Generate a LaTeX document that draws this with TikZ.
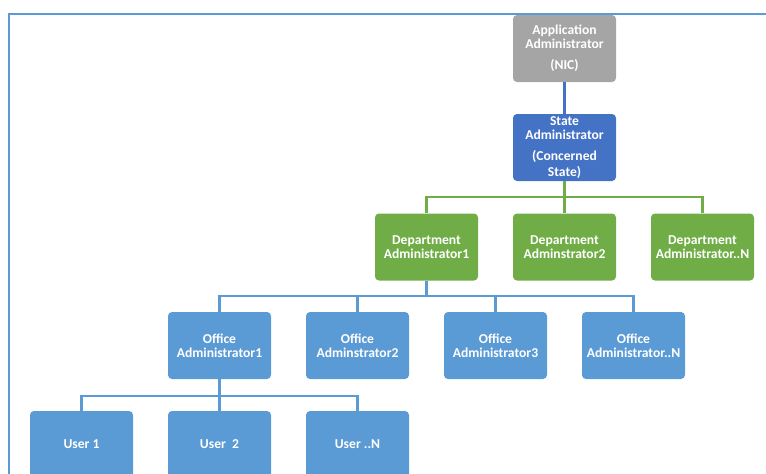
\documentclass[tikz,border=0pt]{standalone}
\usepackage{fontspec}
\setmainfont{Carlito}
\definecolor{gbox}{HTML}{A5A5A5}
\definecolor{sbox}{HTML}{4472C4}
\definecolor{dbox}{HTML}{70AD47}
\definecolor{obox}{HTML}{5B9BD5}
\definecolor{frame}{HTML}{5B9BD5}
\tikzset{
  box/.style={rectangle, rounded corners=4pt, minimum width=103pt, minimum height=67pt,
    draw=none, text=white, align=center, inner sep=0pt,
    font=\fontsize{13.6}{14.2}\selectfont\bfseries},
  conn/.style={line width=2.8pt},
}
\begin{document}
\begin{tikzpicture}[x=1pt,y=-1pt]
\useasboundingbox (0,0) rectangle (766,474);
\clip (0,0) rectangle (766,474);
\draw[frame, line width=2pt] (9,490) -- (9,13.5) -- (780,13.5);
\node[box, fill=gbox] (app) at (564.5,48.5) {Application\\Administrator\\[7pt](NIC)};
\node[box, fill=sbox] (state) at (564.5,147.5) {State\\Administrator\\[6pt](Concerned\\[2pt]State)};
\node[box, fill=dbox] (d1) at (426.5,247) {Department\\Administrator1};
\node[box, fill=dbox] (d2) at (564.5,247) {Department\\Adminstrator2};
\node[box, fill=dbox] (dn) at (702.5,247) {Department\\Administrator..N};
\node[box, fill=obox] (o1) at (219.5,345.5) {Office\\Administrator1};
\node[box, fill=obox] (o2) at (357.5,345.5) {Office\\Adminstrator2};
\node[box, fill=obox] (o3) at (495.5,345.5) {Office\\Administrator3};
\node[box, fill=obox] (on) at (633.5,345.5) {Office\\Administrator..N};
\node[box, fill=obox] (u1) at (81.5,444.5) {User 1};
\node[box, fill=obox] (u2) at (219.5,444.5) {User\ \ 2};
\node[box, fill=obox] (un) at (357.5,444.5) {User ..N};
\coordinate (gb) at (564.5,197);
\coordinate (ob) at (426.5,296);
\coordinate (ub) at (219.5,396);
\draw[conn, sbox] (app) -- (state);
\draw[conn, dbox] (state) -- (gb);
\draw[conn, dbox] (gb) -| (d1);
\draw[conn, dbox] (gb) -- (d2);
\draw[conn, dbox] (gb) -| (dn);
\draw[conn, obox] (d1) -- (ob);
\draw[conn, obox] (ob) -| (o1);
\draw[conn, obox] (ob) -| (o2);
\draw[conn, obox] (ob) -| (o3);
\draw[conn, obox] (ob) -| (on);
\draw[conn, obox] (o1) -- (ub);
\draw[conn, obox] (ub) -| (u1);
\draw[conn, obox] (ub) -- (u2);
\draw[conn, obox] (ub) -| (un);
\end{tikzpicture}
\end{document}
